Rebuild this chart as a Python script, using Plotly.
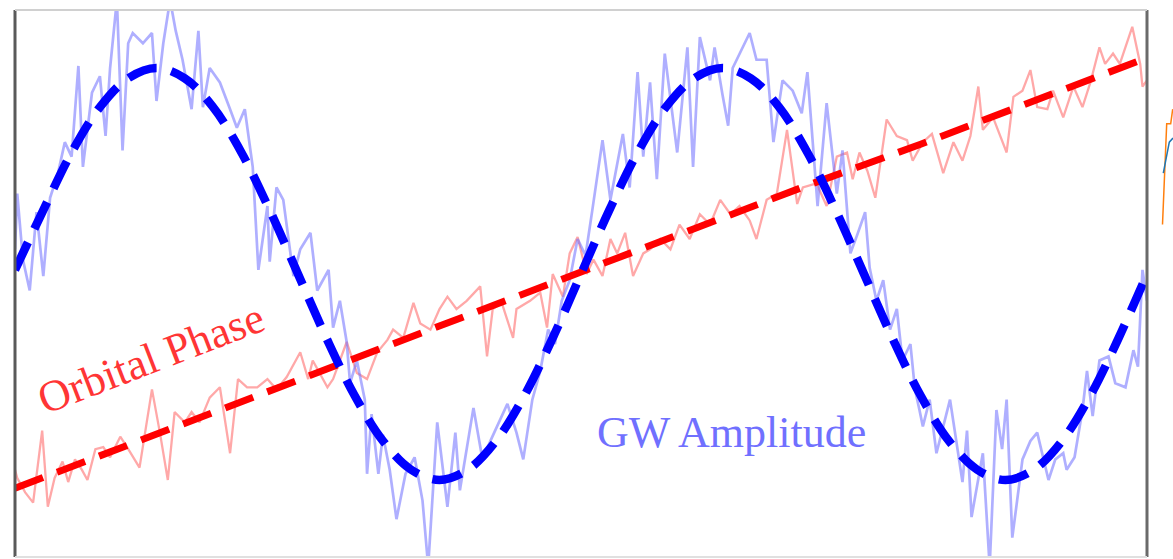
import plotly.graph_objects as go

# ---------------- data ----------------
# time axis: 0..100 (arbitrary units); amplitude axis: normalised units
smooth_t = [0, 2.5, 5, 7.5, 10, 12.5, 15, 17.5, 20, 22.5, 25, 27.5, 30, 32.5, 35, 37.5, 40,
            42.5, 45, 47.5, 50, 52.5, 55, 57.5, 60, 62.5, 65, 67.5, 70, 72.5, 75, 77.5, 80,
            82.5, 85, 87.5, 90, 92.5, 95, 97.5, 100]
gw_smooth = [0.02, 0.31, 0.59, 0.81, 0.95, 1.00, 0.95, 0.81, 0.59, 0.31, 0.00, -0.31, -0.59,
             -0.81, -0.95, -1.00, -0.95, -0.81, -0.59, -0.31, 0.00, 0.31, 0.59, 0.81, 0.95,
             1.00, 0.95, 0.81, 0.59, 0.31, 0.00, -0.31, -0.59, -0.81, -0.95, -1.00, -0.95,
             -0.81, -0.59, -0.31, 0.00]

phase_t = [0, 10, 20, 30, 40, 50, 60, 70, 80, 90, 100]
phase_smooth = [-1.04, -0.83, -0.62, -0.41, -0.20, 0.01, 0.22, 0.43, 0.63, 0.84, 1.05]

gw_noisy_t = [0.0, 0.2, 0.7, 1.3, 1.9, 2.5, 3.1, 3.8, 4.4, 5.0, 5.6, 6.0, 6.8, 7.5, 8.0, 8.4,
              9.0, 9.5, 10.0, 10.4, 11.3, 12.1, 12.5, 13.1, 13.7, 14.2, 14.8, 15.6, 16.2, 16.6,
              17.2, 18.1, 19.0, 19.6, 20.3, 21.0, 21.5, 21.9, 22.3, 22.5, 23.1, 23.7, 24.6,
              25.2, 26.1, 26.7, 27.7, 28.1, 28.7, 29.3, 29.6, 30.2, 30.9, 31.1, 31.5, 32.1,
              32.5, 33.1, 33.7, 34.5, 35.3, 36.0, 36.5, 37.3, 38.2, 38.9, 39.3, 40.5, 41.3,
              42.0, 42.8, 43.5, 44.3, 44.9, 45.7, 46.4, 47.1, 47.7, 48.3, 49.0, 49.7, 50.4,
              51.0, 51.9, 52.6, 53.2, 53.7, 54.3, 55.0, 55.5, 56.1, 56.7, 57.4, 58.5, 59.4,
              59.9, 60.5, 61.4, 61.8, 62.5, 63.0, 63.4, 64.2, 64.9, 65.5, 66.4, 67.0, 67.8,
              68.7, 69.5, 70.0, 70.9, 71.7, 72.6, 73.1, 73.8, 74.4, 75.1, 75.5, 76.1, 76.7,
              77.3, 77.9, 78.4, 79.1, 79.5, 79.9, 80.2, 80.8, 81.4, 82.6, 83.7, 84.1, 84.5,
              85.5, 86.1, 86.7, 87.2, 87.6, 88.1, 89.0, 89.7, 90.3, 91.3, 91.9, 92.6, 92.9,
              93.6, 94.3, 94.7, 95.2, 95.8, 96.6, 97.2, 98.1, 98.8, 99.2, 99.6, 100.0]
gw_noisy = [0.12, 0.39, 0.07, -0.08, 0.30, -0.01, 0.37, 0.49, 0.64, 0.57, 1.01, 0.52, 0.88,
            0.96, 0.67, 1.00, 1.33, 0.60, 1.12, 1.17, 1.12, 1.17, 0.84, 1.12, 1.33, 1.18, 1.04,
            0.80, 1.18, 0.81, 1.00, 0.93, 0.80, 0.71, 0.80, 0.52, 0.02, 0.17, 0.33, 0.06, 0.42,
            0.36, -0.01, 0.12, 0.20, -0.08, 0.02, -0.26, -0.13, -0.33, -0.53, -0.42, -0.61,
            -0.97, -0.68, -0.97, -0.78, -0.95, -1.19, -0.97, -0.89, -1.10, -1.42, -0.72, -1.13,
            -0.77, -1.05, -0.65, -0.90, -0.81, -0.71, -0.63, -0.77, -0.90, -0.61, -0.47, -0.27,
            -0.34, -0.13, -0.03, 0.17, 0.09, 0.31, 0.65, 0.36, 0.53, 0.68, 0.42, 0.98, 0.57,
            0.93, 0.46, 1.07, 0.59, 1.10, 0.52, 1.15, 0.94, 1.10, 0.87, 0.72, 1.00, 1.09, 1.17,
            1.04, 1.04, 0.64, 0.94, 0.89, 0.78, 0.98, 0.33, 0.83, 0.39, 0.60, 0.10, 0.19, 0.30,
            0.03, -0.13, -0.03, -0.27, -0.17, -0.42, -0.34, -0.56, -0.66, -0.74, -0.61, -0.87,
            -0.61, -1.01, -0.76, -1.18, -0.87, -1.42, -0.66, -0.85, -0.61, -1.28, -0.90, -0.81,
            -0.77, -1.00, -0.90, -0.87, -0.95, -0.89, -0.66, -0.47, -0.69, -0.42, -0.40, -0.53,
            -0.55, -0.37, -0.45, 0.02, -0.13]

phase_noisy_t = [0.0, 0.2, 0.9, 1.6, 2.4, 2.9, 3.5, 4.2, 4.7, 5.3, 5.9, 6.4, 7.1, 7.8, 8.4,
                 9.3, 9.9, 11.0, 12.1, 12.8, 13.5, 14.1, 15.0, 15.6, 16.3, 17.2, 18.1, 19.0,
                 19.7, 20.5, 21.4, 22.3, 23.1, 24.0, 25.2, 25.9, 26.3, 27.6, 28.1, 29.3, 30.2,
                 31.1, 32.0, 32.9, 33.4, 34.3, 35.2, 35.8, 36.7, 37.5, 38.2, 39.0, 39.9, 41.1,
                 41.7, 42.2, 43.0, 44.0, 44.3, 45.5, 46.4, 47.0, 47.5, 48.4, 49.0, 49.7, 50.5,
                 51.1, 51.9, 52.6, 53.2, 53.9, 54.6, 55.5, 56.1, 57.0, 57.9, 58.7, 59.6, 60.5,
                 61.4, 62.3, 63.2, 64.0, 64.9, 65.5, 66.4, 67.3, 68.2, 69.1, 69.6, 70.8, 71.7,
                 72.6, 73.5, 74.0, 74.6, 75.3, 76.0, 77.0, 77.9, 78.8, 79.3, 80.2, 81.0, 82.0,
                 82.9, 83.7, 84.4, 85.1, 85.5, 86.4, 87.6, 88.2, 89.0, 89.7, 90.3, 91.2, 91.7,
                 92.6, 93.5, 94.3, 95.0, 95.8, 96.3, 97.0, 97.6, 98.7, 99.4, 99.6, 100.0]
phase_noisy = [-0.95, -0.99, -1.06, -1.11, -0.76, -1.13, -0.99, -0.91, -1.01, -0.90, -0.95,
               -1.00, -0.85, -0.84, -0.89, -0.79, -0.84, -0.94, -0.56, -0.77, -1.00, -0.67,
               -0.72, -0.67, -0.72, -0.60, -0.55, -0.87, -0.51, -0.55, -0.55, -0.51, -0.56,
               -0.50, -0.38, -0.51, -0.42, -0.55, -0.51, -0.33, -0.48, -0.51, -0.38, -0.32,
               -0.27, -0.31, -0.14, -0.24, -0.27, -0.17, -0.11, -0.17, -0.13, -0.06, -0.40,
               -0.17, -0.14, -0.31, -0.17, -0.13, -0.09, -0.26, 0.00, -0.11, 0.10, 0.18, 0.00,
               0.07, -0.01, 0.17, 0.10, 0.20, -0.01, 0.10, 0.12, 0.17, 0.12, 0.24, 0.17, 0.29,
               0.24, 0.36, 0.29, 0.33, 0.26, 0.17, 0.36, 0.39, 0.70, 0.34, 0.42, 0.44, 0.33,
               0.57, 0.59, 0.46, 0.59, 0.50, 0.37, 0.75, 0.67, 0.65, 0.55, 0.64, 0.68, 0.49,
               0.64, 0.55, 0.67, 0.91, 0.70, 0.76, 0.59, 0.86, 0.89, 0.99, 0.81, 0.80, 0.89,
               0.76, 0.91, 0.81, 0.93, 1.10, 1.02, 1.07, 1.02, 1.20, 1.02, 0.91, 0.94]

# fragments of a neighbouring panel visible at the right edge
frag_x = [2.5, 6.7, 10.7, 12.7]
frag_orange = [0.24, 0.73, 0.73, 0.80]
frag_blue_x = [3.3, 9.3, 13.0]
frag_blue = [0.49, 0.64, 0.66]

labels = ["Orbital Phase", "GW Amplitude"]

# ---------------- figure ----------------
fig = go.Figure()

fig.add_trace(go.Scatter(x=phase_noisy_t, y=phase_noisy, mode="lines",
                         line=dict(color="rgba(255,110,110,0.6)", width=2.3),
                         hoverinfo="skip", showlegend=False))
fig.add_trace(go.Scatter(x=gw_noisy_t, y=gw_noisy, mode="lines",
                         line=dict(color="rgba(110,110,255,0.55)", width=2.7),
                         hoverinfo="skip", showlegend=False))
fig.add_trace(go.Scatter(x=phase_t, y=phase_smooth, mode="lines",
                         line=dict(color="#ff0000", width=7, dash="30px,15px"),
                         hoverinfo="skip", showlegend=False))
fig.add_trace(go.Scatter(x=smooth_t, y=gw_smooth, mode="lines",
                         line=dict(color="#0000ff", width=8.5, dash="30px,15px", shape="spline"),
                         hoverinfo="skip", showlegend=False))

fig.add_trace(go.Scatter(x=frag_x, y=frag_orange, mode="lines", xaxis="x2", yaxis="y",
                         line=dict(color="#ff7f0e", width=1.5), hoverinfo="skip", showlegend=False))
fig.add_trace(go.Scatter(x=frag_blue_x, y=frag_blue, mode="lines", xaxis="x2", yaxis="y",
                         line=dict(color="#1f77b4", width=1.5), hoverinfo="skip", showlegend=False))

fig.add_annotation(x=12.0, y=-0.41, text=labels[0], showarrow=False, textangle=-21,
                   font=dict(family="Liberation Serif", size=44, color="#ff3535"),
                   xanchor="center", yanchor="middle")
fig.add_annotation(x=63.3, y=-0.77, text=labels[1], showarrow=False,
                   font=dict(family="Liberation Serif", size=44, color="#7070ff"),
                   xanchor="center", yanchor="middle")

main_right = 1132 / 1158
# frame of the panel
fig.add_shape(type="line", xref="paper", yref="paper", x0=0, x1=0, y0=0, y1=1,
              line=dict(color="#5a5a5a", width=3))
fig.add_shape(type="line", xref="paper", yref="paper", x0=main_right, x1=main_right, y0=0, y1=1,
              line=dict(color="#6a6a6a", width=3))
fig.add_shape(type="line", xref="paper", yref="paper", x0=0, x1=main_right, y0=1, y1=1,
              line=dict(color="#d0d0d0", width=2))
fig.add_shape(type="line", xref="paper", yref="paper", x0=0, x1=main_right, y0=0, y1=0,
              line=dict(color="#e0e0e0", width=2))

axis_common = dict(showgrid=False, zeroline=False, showticklabels=False, ticks="",
                   showline=False, fixedrange=True)
fig.update_layout(
    width=1173, height=559,
    margin=dict(l=15, r=0, t=10, b=2),
    paper_bgcolor="white", plot_bgcolor="white",
    xaxis=dict(range=[0, 100], domain=[0, main_right], **axis_common),
    xaxis2=dict(range=[0, 13], domain=[(1160 - 15) / 1158, 1.0], anchor="y", **axis_common),
    yaxis=dict(range=[-1.3738, 1.2816], domain=[0, 1], **axis_common),
    showlegend=False,
)

fig.write_html("out.html")
